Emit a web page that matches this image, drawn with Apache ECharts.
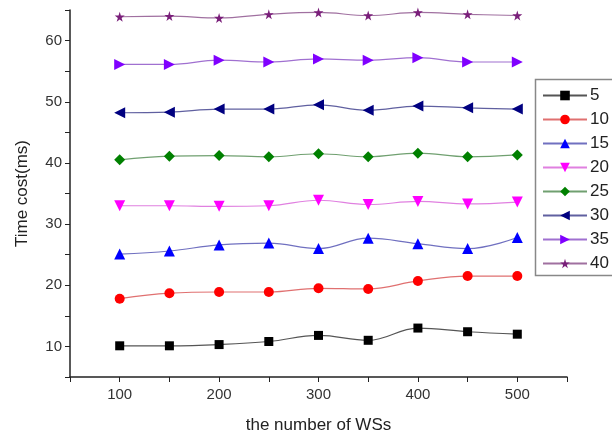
<!DOCTYPE html>
<html>
<head>
<meta charset="utf-8">
<script src="https://cdn.jsdelivr.net/npm/echarts@6/dist/echarts.min.js"></script>
<style>
  html, body { margin: 0; padding: 0; background: #fff; }
  #chart { width: 612px; height: 439px; }
</style>
</head>
<body>
<div id="chart"></div>
<script>
// x values (number of WSs)
const wsCounts = [100, 150, 200, 250, 300, 350, 400, 450, 500];
const seriesNames = ['5', '10', '15', '20', '25', '30', '35', '40'];

// time cost (ms) for each series
const t5  = [10.1, 10.1, 10.3, 10.8, 11.8, 11.0, 13.0, 12.4, 12.0];
const t10 = [17.8, 18.7, 18.9, 18.9, 19.5, 19.4, 20.7, 21.5, 21.5];
const t15 = [25.1, 25.6, 26.6, 26.9, 26.0, 27.7, 26.8, 26.0, 27.8];
const t20 = [33.0, 33.0, 32.9, 33.0, 33.9, 33.2, 33.7, 33.3, 33.6];
const t25 = [40.5, 41.1, 41.2, 41.0, 41.5, 41.0, 41.6, 41.0, 41.3];
const t30 = [48.2, 48.3, 48.8, 48.8, 49.5, 48.6, 49.3, 49.0, 48.8];
const t35 = [56.1, 56.1, 56.8, 56.5, 57.0, 56.8, 57.2, 56.5, 56.5];
const t40 = [63.9, 64.0, 63.7, 64.3, 64.6, 64.1, 64.6, 64.3, 64.1];

const allData = [t5, t10, t15, t20, t25, t30, t35, t40];

const starPath = 'path://M50,0 L61,35 L98,35 L68,57 L79,91 L50,70 L21,91 L32,57 L2,35 L39,35 Z';

// marker, colours per series
const looks = [
  { symbol: 'rect',     rotate: 0,   size: 9,  color: '#000000', line: '#555555' },
  { symbol: 'circle',   rotate: 0,   size: 10, color: '#ff0000', line: '#e07070' },
  { symbol: 'triangle', rotate: 0,   size: 11, color: '#0000ff', line: '#7070c0' },
  { symbol: 'triangle', rotate: 180, size: 11, color: '#ff00ff', line: '#e080e0' },
  { symbol: 'diamond',  rotate: 0,   size: 11, color: '#008000', line: '#70a070' },
  { symbol: 'triangle', rotate: 90,  size: 11, color: '#000080', line: '#6060a0' },
  { symbol: 'triangle', rotate: -90, size: 11, color: '#8000ff', line: '#a070d0' },
  { symbol: starPath,   rotate: 0,   size: 10, color: '#7a1f7a', line: '#a070a0' }
];

const chart = echarts.init(document.getElementById('chart'));

const series = seriesNames.map(function (name, i) {
  const lk = looks[i];
  return {
    name: name,
    type: 'line',
    smooth: 0.4,
    data: wsCounts.map(function (x, j) { return [x, allData[i][j]]; }),
    symbol: lk.symbol,
    symbolRotate: lk.rotate,
    symbolSize: lk.size,
    itemStyle: { color: lk.color },
    lineStyle: { color: lk.line, width: 1.2 }
  };
});

const option = {
  animation: false,
  textStyle: { fontFamily: 'Liberation Sans, Arial, sans-serif' },
  grid: { left: 70, right: 45, top: 10, bottom: 62 },
  // legend frame runs off the right edge like the reference
  graphic: [{
    type: 'rect',
    left: 533,
    top: 77,
    shape: { width: 120, height: 196 },
    style: { fill: 'none', stroke: '#888', lineWidth: 1.5 },
    z: 10
  }],
  legend: {
    orient: 'vertical',
    left: 533,
    top: 77,
    data: seriesNames,
    itemWidth: 44,
    itemHeight: 12,
    itemGap: 7,
    padding: [10, 10, 6, 9],
    textStyle: { fontSize: 17, color: '#222', padding: [0, 0, 0, -2] }
  },
  xAxis: {
    type: 'value',
    min: 50,
    max: 550,
    interval: 50,
    name: 'the number of WSs',
    nameLocation: 'middle',
    nameGap: 40,
    nameTextStyle: { fontSize: 17, color: '#222' },
    axisLine: { lineStyle: { color: '#222', width: 1.5 } },
    axisTick: { inside: false, length: 5, lineStyle: { color: '#222' } },
    axisLabel: {
      fontSize: 15,
      color: '#333',
      margin: 10,
      formatter: function (v) { return v % 100 === 0 && v >= 100 && v <= 500 ? String(v) : ''; }
    },
    splitLine: { show: false }
  },
  yAxis: {
    type: 'value',
    min: 5,
    max: 65,
    interval: 5,
    name: 'Time cost(ms)',
    nameLocation: 'middle',
    nameGap: 39,
    nameTextStyle: { fontSize: 17, color: '#222' },
    axisLine: { show: true, lineStyle: { color: '#222', width: 1.5 } },
    axisTick: { show: true, length: 5, lineStyle: { color: '#222' } },
    axisLabel: {
      fontSize: 15,
      color: '#333',
      formatter: function (v) { return v % 10 === 0 ? String(v) : ''; }
    },
    splitLine: { show: false }
  },
  series: series
};

chart.setOption(option);
</script>
</body>
</html>
